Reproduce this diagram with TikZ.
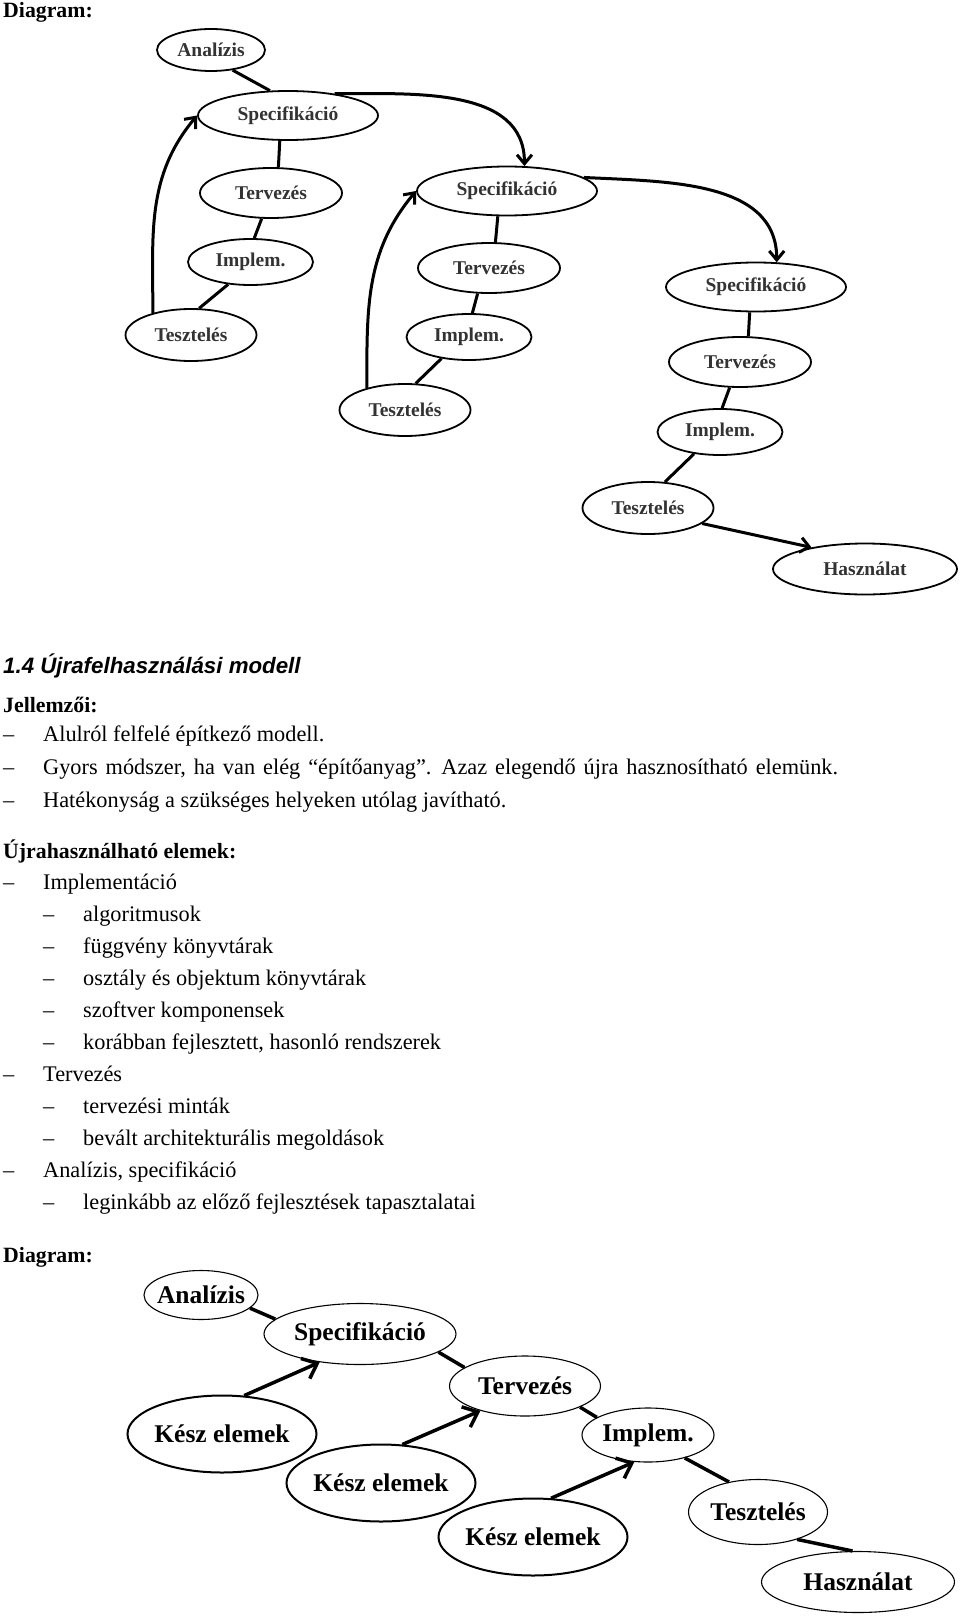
\documentclass[tikz,border=0pt]{standalone}
\usepackage{fontspec}
\setmainfont{Liberation Serif}
\newfontfamily\headsans{Liberation Sans}
\usetikzlibrary{shapes.geometric,arrows.meta}

\begin{document}
\begin{tikzpicture}[x=1pt, y=1pt,
  phase/.style={ellipse, draw, line width=1.8pt, inner sep=0pt, text=black!80, font=\fontsize{19.5}{21}\selectfont\bfseries},
  anabox/.style={phase, minimum width=108pt, minimum height=42pt},
  specbox/.style={phase, minimum width=180pt, minimum height=49pt},
  tervbox/.style={phase, minimum width=142pt, minimum height=50pt},
  implbox/.style={phase, minimum width=125pt, minimum height=46pt},
  teszbox/.style={phase, minimum width=131pt, minimum height=52pt},
  haszbox/.style={phase, minimum width=184pt, minimum height=51pt},
  link/.style={line width=3pt},
  flow/.style={line width=3pt, -{Straight Barb[length=9pt, width=15pt]}},
  bigphase/.style={ellipse, draw, line width=1.1pt, inner sep=0pt, font=\fontsize{25.5}{27}\selectfont\bfseries},
  keszbox/.style={bigphase, line width=2pt, minimum width=189pt, minimum height=77pt, inner xsep=-1pt},
  biglink/.style={line width=3.5pt},
  bigflow/.style={line width=3.5pt, -{Straight Barb[length=13pt, width=22pt]}},
  listtxt/.style={anchor=base west, inner sep=0pt, font=\fontsize{22.3}{26}\selectfont},
  listhead/.style={listtxt, font=\fontsize{21.8}{26}\selectfont\bfseries},
]
\fill[white] (0,0) rectangle (960,-1616);
\useasboundingbox (0,0) rectangle (960,-1616);

% first diagram
\node[listhead] (diag1) at (3,-18) {Diagram:};
\node[anabox] (ana1) at (211,-50) {Analízis};
\node[specbox] (spec1) at (288,-115.5) {Specifikáció};
\node[tervbox] (terv1) at (271,-193) {Tervezés};
\node[implbox] (impl1) at (250.5,-262) {Implem.};
\node[teszbox] (tesz1) at (191,-335) {Tesztelés};
\node[specbox] (spec2) at (507,-191) {Specifikáció};
\node[tervbox] (terv2) at (489,-268) {Tervezés};
\node[implbox] (impl2) at (469,-337) {Implem.};
\node[teszbox] (tesz2) at (405,-410) {Tesztelés};
\node[specbox] (spec3) at (756,-287) {Specifikáció};
\node[tervbox] (terv3) at (740,-362) {Tervezés};
\node[implbox] (impl3) at (720,-432) {Implem.};
\node[teszbox] (tesz3) at (648,-508) {Tesztelés};
\node[haszbox] (hasz1) at (865,-569) {Használat};

\draw[link] (ana1.-43) -- (spec1.126);
\draw[link] (spec1.252) -- (terv1.74);
\draw[link] (terv1.250) -- (impl1.81);
\draw[link] (impl1.225) -- (tesz1.73);
\draw[flow] (tesz1.150) to[out=90, in=230] (spec1.180);
\draw[flow] (spec1.25) to[out=0, in=90] (spec2.55);
\draw[link] (spec2.250) -- (terv2.76);
\draw[link] (terv2.246) -- (impl2.82);
\draw[link] (impl2.218) -- (tesz2.68);
\draw[flow] (tesz2.150) to[out=90, in=230] (spec2.180);
\draw[flow] (spec2.10) to[out=-3, in=90] (spec3.50);
\draw[link] (spec3.256) -- (terv3.72);
\draw[link] (terv3.248) -- (impl3.85);
\draw[link] (impl3.220) -- (tesz3.57);
\draw[flow] (tesz3.-16) -- (hasz1.158);

% text
\node[listtxt, font=\fontsize{22.3}{26}\headsans\bfseries\itshape] (title) at (3,-673) {1.4 Újrafelhasználási modell};
\node[listhead] (jell) at (3,-712) {Jellemzői:};
\node[listtxt] (m1) at (3,-741) {–};
\node[listtxt] (j1) at (43,-741) {Alulról felfelé építkező modell.};
\node[listtxt] (m2) at (3,-774) {–};
\node[listtxt] (j2) at (43,-774) {\spaceskip=8pt Gyors módszer, ha van elég “építőanyag”. Azaz elegendő újra hasznosítható elemünk.};
\node[listtxt] (m3) at (3,-807) {–};
\node[listtxt] (j3) at (43,-807) {Hatékonyság a szükséges helyeken utólag javítható.};
\node[listhead] (ujra) at (3,-858) {Újrahasználható elemek:};
\node[listtxt] (m4) at (3,-889) {–};
\node[listtxt] (u1) at (43,-889) {Implementáció};
\node[listtxt] (m5) at (43,-921) {–};
\node[listtxt] (u2) at (83,-921) {algoritmusok};
\node[listtxt] (m6) at (43,-953) {–};
\node[listtxt] (u3) at (83,-953) {függvény könyvtárak};
\node[listtxt] (m7) at (43,-985) {–};
\node[listtxt] (u4) at (83,-985) {osztály és objektum könyvtárak};
\node[listtxt] (m8) at (43,-1017) {–};
\node[listtxt] (u5) at (83,-1017) {szoftver komponensek};
\node[listtxt] (m9) at (43,-1049) {–};
\node[listtxt] (u6) at (83,-1049) {korábban fejlesztett, hasonló rendszerek};
\node[listtxt] (m10) at (3,-1081) {–};
\node[listtxt] (u7) at (43,-1081) {Tervezés};
\node[listtxt] (m11) at (43,-1113) {–};
\node[listtxt] (u8) at (83,-1113) {tervezési minták};
\node[listtxt] (m12) at (43,-1145) {–};
\node[listtxt] (u9) at (83,-1145) {bevált architekturális megoldások};
\node[listtxt] (m13) at (3,-1177) {–};
\node[listtxt] (u10) at (43,-1177) {Analízis, specifikáció};
\node[listtxt] (m14) at (43,-1209) {–};
\node[listtxt] (u11) at (83,-1209) {leginkább az előző fejlesztések tapasztalatai};

% second diagram
\node[listhead] (diag2) at (3,-1262) {Diagram:};
\node[bigphase, minimum width=114pt, minimum height=49pt, inner xsep=-5pt] (ana2) at (201,-1295) {Analízis};
\node[bigphase, minimum width=192pt, minimum height=61pt] (spec4) at (360,-1334) {Specifikáció};
\node[bigphase, minimum width=151pt, minimum height=60pt] (terv4) at (525,-1386) {Tervezés};
\node[bigphase, minimum width=132pt, minimum height=54pt] (impl4) at (648,-1435) {Implem.};
\node[bigphase, minimum width=139pt, minimum height=65pt] (tesz4) at (758,-1512) {Tesztelés};
\node[bigphase, minimum width=193pt, minimum height=61pt] (hasz2) at (858,-1582) {Használat};
\node[keszbox] (kesz1) at (222,-1434) {Kész elemek};
\node[keszbox] (kesz2) at (381,-1483) {Kész elemek};
\node[keszbox] (kesz3) at (533,-1537) {Kész elemek};

\draw[biglink] (ana2.-15) -- (spec4.170);
\draw[biglink] (spec4.-13) -- (terv4.163);
\draw[biglink] (terv4.-21) -- (impl4.161);
\draw[biglink] (impl4.-32) -- (tesz4.134);
\draw[biglink] (tesz4.-35) -- (hasz2.100);
\draw[bigflow] (kesz1.60) -- (spec4.215);
\draw[bigflow] (kesz2.61) -- (terv4.209);
\draw[bigflow] (kesz3.65) -- (impl4.243);
\end{tikzpicture}
\end{document}
